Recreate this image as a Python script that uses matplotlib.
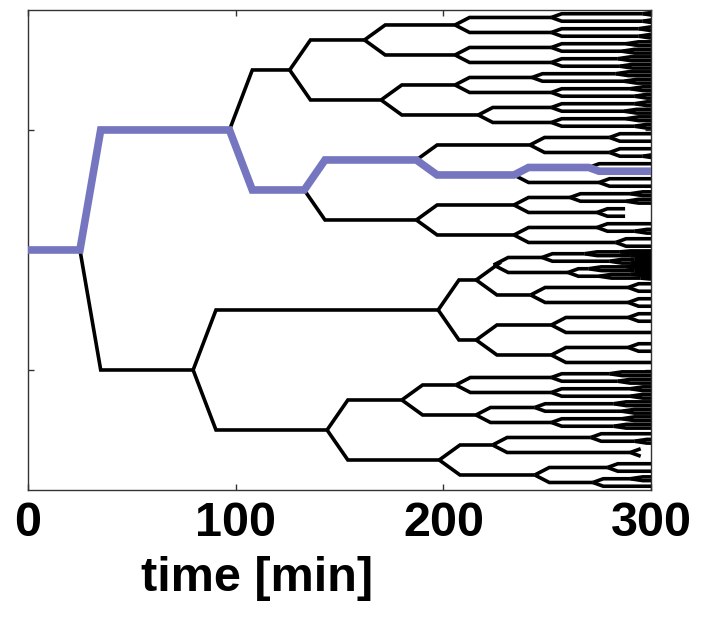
import matplotlib
matplotlib.use("Agg")
import matplotlib.pyplot as plt
from matplotlib.collections import LineCollection

# division times [min] for every cell, one list per generation,
# indexed by the binary lineage code (0 = upper daughter, 1 = lower daughter)
gen0_splits = [25]
gen1_splits = [97, 79.5]
gen2_splits = [126, 133, 197.5, 144]
gen3_splits = [162, 170, 187, 187, 215.8, 215.8, 180, 198]
gen4_splits = [205.6, 205.6, 205.6, 216.8, 241.7, 234, 234, 234,
               224.2, 242, 252, 252, 206, 215.7, 223.7, 244]
gen5_splits = [252, 252, 252, 252, 242.7, 252, 252, 252,
               280, 280, 270, 275, 261, 274, 274, 283,
               247.5, 260, 289, 289, 289, None, 289, None,
               252, 252, 244, 252, 271, 290, 279, 272]
gen6_splits = [296, 296, 294, 294, 288, 286, 284, 285,
               283, 287, 290, 292, 292, 287, 288, 292,
               None, None, None, 296, None, None, None, None,
               290, 288, None, None, None, 292, None, None,
               268, 280, 270, 275, None, None, None, None,
               None, None, None, None, None, None, None, None,
               280, 284, 290, 290, 282, 286, 286, 282,
               None, 292, None, None, None, None, 290, None]
# a few late divisions in the densest clone
gen7_splits = {"1000000": 285, "1000001": 290, "1000010": 292,
               "1000011": 290, "1000100": 288, "1000101": 292,
               "1000110": 290, "1000111": 295}

# cells that stop being tracked before the end of the movie
track_ends = {"011010": 287.5, "011011": 287.5,
              "111010": 295, "111011": 295}

# highlighted lineage
highlight = "010101"

t_max = 300
xtick_values = [0, 100, 200, 300]
ytick_values = [0.25, 0.5, 0.75]

splits = [gen0_splits, gen1_splits, gen2_splits, gen3_splits,
          gen4_splits, gen5_splits, gen6_splits]
# duration of the branching step after a division, per generation
branch_dt = [10, 11, 10, 10, 7, 5, 6, 5]


def split_time(code):
    lvl = len(code)
    if lvl < len(splits):
        return splits[lvl][int(code, 2) if code else 0]
    return gen7_splits.get(code)


def node_y(code):
    y = 0.5
    for k, b in enumerate(code):
        y += (0.25 if b == "0" else -0.25) / 2 ** k
    return y


def branch(code, t_birth, y_parent):
    y = node_y(code)
    t_div = split_time(code)
    t_end = t_div if t_div is not None else track_ends.get(code, t_max)
    if code == "":
        pts = [(0, y), (t_end, y)]
    else:
        pts = [(t_birth, y_parent),
               (t_birth + branch_dt[len(code) - 1], y), (t_end, y)]
    return pts, t_div


segments = []
stack = [("", 0, 0.5)]
while stack:
    code, t_birth, y_parent = stack.pop()
    pts, t_div = branch(code, t_birth, y_parent)
    segments.append(pts)
    if t_div is not None:
        for b in "01":
            stack.append((code + b, t_div, node_y(code)))

# path of the highlighted cell
purple = []
t_birth, y_parent = 0, 0.5
for i in range(len(highlight) + 1):
    code = highlight[:i]
    pts, t_div = branch(code, t_birth, y_parent)
    if code == highlight:
        pts[-1] = (t_max, pts[-1][1])
    purple.extend(pts)
    t_birth, y_parent = t_div, node_y(code)

fig = plt.figure(figsize=(7.04, 6.23), dpi=100)
ax = fig.add_axes([0.0398, 0.2135, 0.885, 0.7705])

ax.add_collection(LineCollection(segments, colors="black", linewidths=2.6,
                                 capstyle="butt", joinstyle="miter"))
ax.plot([p[0] for p in purple], [p[1] for p in purple],
        color="#7676c0", linewidth=5.5, solid_joinstyle="miter",
        solid_capstyle="butt", zorder=3)

ax.set_xlim(0, t_max)
ax.set_ylim(0, 1)
ax.set_xticks(xtick_values)
ax.set_yticks(ytick_values)
ax.set_yticklabels([])
ax.tick_params(direction="in", top=True, right=True, length=4, width=1,
               color="#333333", pad=8)
for s in ax.spines.values():
    s.set_color("#333333")
    s.set_linewidth(1)

font = dict(family=["Liberation Sans", "DejaVu Sans"],
            weight="bold", size=35)
ax.set_xticklabels([str(v) for v in xtick_values], fontdict=font)
ax.set_xlabel("time [min]", fontdict=font)
ax.xaxis.set_label_coords(0.368, -0.138)

fig.savefig("out.png", dpi=100)
